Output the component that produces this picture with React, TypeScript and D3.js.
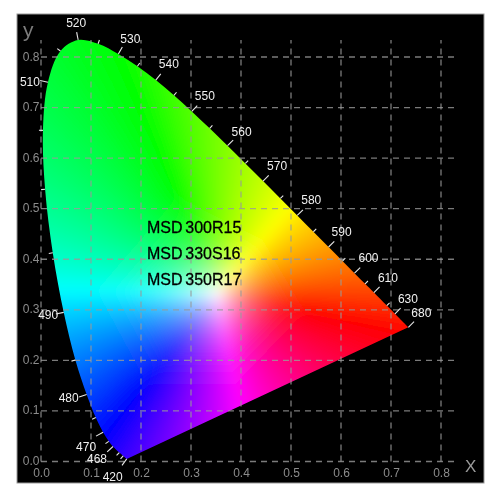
import React, { useEffect, useRef } from 'react';
import * as d3 from 'd3';

// spectral locus, CIE 1931
const waves = [420, 430, 440, 450, 460, 465, 470, 475, 480, 485, 490, 495, 500, 505, 510, 515, 520, 525, 530, 535, 540, 545, 550, 555, 560, 565, 570, 575, 580, 585, 590, 595, 600, 605, 610, 620, 630, 640, 650, 680];
const locusX = [0.1714, 0.1689, 0.1644, 0.1566, 0.144, 0.1355, 0.1241, 0.1096, 0.0913, 0.0687, 0.0454, 0.0235, 0.0082, 0.0039, 0.0139, 0.0389, 0.0743, 0.1142, 0.1547, 0.1929, 0.2296, 0.2658, 0.3016, 0.3373, 0.3731, 0.4087, 0.4441, 0.4788, 0.5125, 0.5448, 0.5752, 0.6029, 0.627, 0.6482, 0.6658, 0.6915, 0.7079, 0.719, 0.726, 0.7347];
const locusY = [0.0051, 0.0069, 0.0109, 0.0177, 0.0297, 0.0399, 0.0578, 0.0868, 0.1327, 0.2007, 0.295, 0.4127, 0.5384, 0.6548, 0.7502, 0.812, 0.8338, 0.8262, 0.8059, 0.7816, 0.7543, 0.7243, 0.6923, 0.6589, 0.6245, 0.5896, 0.5547, 0.5202, 0.4866, 0.4544, 0.4242, 0.3965, 0.3725, 0.3514, 0.334, 0.3083, 0.292, 0.2809, 0.274, 0.2653];

const labelWaves = [420, 460, 470, 480, 490, 510, 520, 530, 540, 550, 560, 570, 580, 590, 600, 610, 630, 680];
const labelText = ['420', '468', '470', '480', '490', '510', '520', '530', '540', '550', '560', '570', '580', '590', '600', '610', '630', '680'];
const minorWaves = [440, 450, 465, 475, 485, 495, 500, 505, 515, 525, 535, 545, 555, 565, 575, 585, 595, 605, 620];

const xTicks = [0, 0.1, 0.2, 0.3, 0.4, 0.5, 0.6, 0.7, 0.8];
const yTicks = [0, 0.1, 0.2, 0.3, 0.4, 0.5, 0.6, 0.7, 0.8];
const products = ['MSD 300R15', 'MSD 330S16', 'MSD 350R17'];

const anchorX = [0.58, 0.47, 0.25, 0.04, 0.17, 0.4];
const anchorY = [0.285, 0.47, 0.58, 0.34, 0.1, 0.1];
const anchorR = [255, 255, 0, 0, 0, 255];
const anchorG = [0, 255, 255, 255, 0, 0];
const anchorB = [0, 0, 0, 255, 255, 255];
const whiteX = 0.352;
const whiteY = 0.333;

// where the wavelength labels sit relative to the locus, px
const labelDx = [-14, -16, -17, -18, -15.5, -18, -2, 12, 13, 13, 14, 14, 14, 13, 14, 14, 13, 13];
const labelDy = [18, 13, 15, 4, 3, 0, -17, -15, -16, -15, -14, -15, -15, -15, -15, -15, -15, -14];

const x = d3.scaleLinear().domain([0, 0.8]).range([41, 441]);
const y = d3.scaleLinear().domain([0, 0.8]).range([461.5, 57]);

function colour(cx: number, cy: number): [number, number, number] {
  const px = cx - whiteX, py = cy - whiteY;
  for (let i = 0; i < 6; i++) {
    const k = (i + 1) % 6;
    const ax = anchorX[i] - whiteX, ay = anchorY[i] - whiteY;
    const bx = anchorX[k] - whiteX, by = anchorY[k] - whiteY;
    const det = ax * by - ay * bx;
    const a = (px * by - py * bx) / det;
    const b = (ax * py - ay * px) / det;
    if (a < 0 || b < 0) continue;
    const sum = a + b || 1;
    // white only survives close to the centre
    const w = Math.pow(Math.max(1 - sum, 0), 2.5);
    const mix = (ca: number[]) => (1 - w) * (a * ca[i] + b * ca[k]) / sum + w * 255;
    return [mix(anchorR), mix(anchorG), mix(anchorB)];
  }
  return [255, 255, 255];
}

function normalAt(w: number) {
  const i = waves.indexOf(w);
  const a = Math.max(i - 1, 0), b = Math.min(i + 1, waves.length - 1);
  const dx = x(locusX[b]) - x(locusX[a]), dy = y(locusY[b]) - y(locusY[a]);
  const len = Math.hypot(dx, dy);
  // walking the locus clockwise, outward is to the left
  return [dy / len, -dx / len];
}

export default function App() {
  const ref = useRef<SVGSVGElement>(null);

  useEffect(() => {
    const svg = d3.select(ref.current);
    svg.selectAll('*').remove();

    svg.append('rect').attr('x', 17).attr('y', 14).attr('width', 467).attr('height', 469)
      .attr('fill', '#000').attr('stroke', '#9a9a9a').attr('stroke-width', 1);

    const defs = svg.append('defs');
    defs.append('filter').attr('id', 'soft').append('feGaussianBlur').attr('stdDeviation', 0.35);
    defs.append('filter').attr('id', 'fieldBlur').append('feGaussianBlur').attr('stdDeviation', 6);
    const pts = waves.map((w, i) => [locusX[i], locusY[i]] as [number, number]);
    const outline = (d3.line<[number, number]>().x((d) => x(d[0])).y((d) => y(d[1])).curve(d3.curveCatmullRom)(pts) as string) + 'Z';
    defs.append('clipPath').attr('id', 'locus').append('path').attr('d', outline);

    const g = svg.append('g').attr('filter', 'url(#soft)');

    // colour field, drawn bigger than the locus so the blur does not eat its edge
    const x0 = 10, y0 = 10, w = 440, h = 470;
    const canvas = document.createElement('canvas');
    canvas.width = w; canvas.height = h;
    const ctx = canvas.getContext('2d')!;
    const img = ctx.createImageData(w, h);
    for (let j = 0; j < h; j++) {
      for (let i = 0; i < w; i++) {
        const c = colour(x.invert(x0 + i + 0.5), y.invert(y0 + j + 0.5));
        const p = (j * w + i) * 4;
        img.data[p] = c[0]; img.data[p + 1] = c[1]; img.data[p + 2] = c[2]; img.data[p + 3] = 255;
      }
    }
    ctx.putImageData(img, 0, 0);
    g.append('g').attr('clip-path', 'url(#locus)')
      .append('image').attr('x', x0).attr('y', y0).attr('width', w).attr('height', h)
      .attr('href', canvas.toDataURL()).attr('filter', 'url(#fieldBlur)');

    // grid
    const gridColor = '#9a9a9a';
    g.append('g').selectAll('line').data(xTicks).enter().append('line')
      .attr('x1', (d) => x(d)).attr('x2', (d) => x(d)).attr('y1', 461.5).attr('y2', 40)
      .attr('stroke', gridColor).attr('stroke-width', 1.3).attr('stroke-dasharray', '6 5').attr('stroke-opacity', 0.8);
    g.append('g').selectAll('line').data(yTicks).enter().append('line')
      .attr('y1', (d) => y(d)).attr('y2', (d) => y(d)).attr('x1', 41).attr('x2', 458)
      .attr('stroke', gridColor).attr('stroke-width', 1.3).attr('stroke-dasharray', '6 5').attr('stroke-opacity', 0.8);

    // axis labels
    g.append('g').selectAll('text').data(xTicks).enter().append('text')
      .attr('x', (d) => x(d) + 0.5).attr('y', 476.5).attr('text-anchor', 'middle')
      .attr('fill', '#8c8c8c').attr('font-size', 12).attr('font-family', 'Liberation Sans')
      .text((d) => d3.format('.1f')(d));
    g.append('g').selectAll('text').data(yTicks).enter().append('text')
      .attr('x', 39.5).attr('y', (d) => y(d) + 3.5).attr('text-anchor', 'end')
      .attr('fill', '#8c8c8c').attr('font-size', 12).attr('font-family', 'Liberation Sans')
      .text((d) => d3.format('.1f')(d));
    g.append('text').attr('x', 23).attr('y', 37).attr('fill', '#7c7c7c')
      .attr('font-size', 21).attr('font-family', 'Liberation Sans').text('y');
    g.append('text').attr('x', 465).attr('y', 472).attr('fill', '#9a9a9a')
      .attr('font-size', 17).attr('font-family', 'Liberation Sans').text('X');

    // ticks on the locus
    const tick = (wl: number, len: number) => {
      const i = waves.indexOf(wl), n = normalAt(wl);
      const px = x(locusX[i]), py = y(locusY[i]);
      g.append('line').attr('x1', px).attr('y1', py).attr('x2', px + n[0] * len).attr('y2', py + n[1] * len)
        .attr('stroke', '#e8e8e8').attr('stroke-width', 1.1);
    };
    labelWaves.forEach((wl) => tick(wl, 8));
    minorWaves.forEach((wl) => tick(wl, 4));

    g.append('g').selectAll('text').data(labelWaves).enter().append('text')
      .attr('x', (d, i) => x(locusX[waves.indexOf(d)]) + labelDx[i])
      .attr('y', (d, i) => y(locusY[waves.indexOf(d)]) + labelDy[i] + 4)
      .attr('text-anchor', 'middle').attr('fill', '#f0f0f0')
      .attr('font-size', 12).attr('font-family', 'Liberation Sans')
      .text((d, i) => labelText[i]);

    // product names on top of the field
    const rowY = d3.scalePoint<string>().domain(products).range([232.5, 285]);
    g.append('g').selectAll('text').data(products).enter().append('text')
      .attr('x', 147).attr('y', (d) => rowY(d) as number)
      .attr('fill', '#000').attr('stroke', '#000').attr('stroke-width', 0.3)
      .attr('font-size', 16).attr('font-family', 'Liberation Sans').attr('word-spacing', -1.7)
      .text((d) => d);
  }, []);

  return (
    <svg ref={ref} width={500} height={500} style={{ position: 'absolute', left: 0, top: 0, background: '#fff' }} />
  );
}
